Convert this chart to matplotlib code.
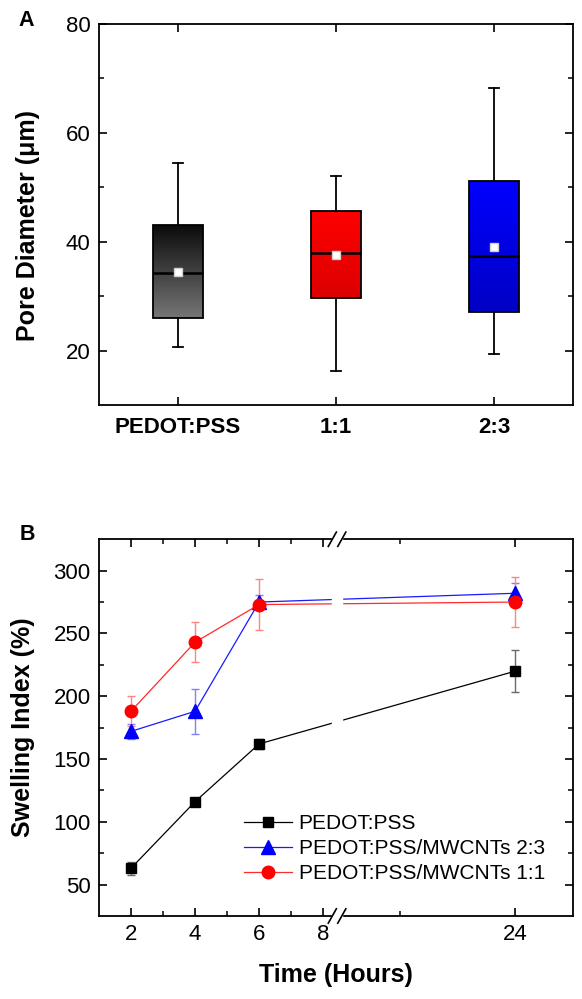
import numpy as np
import matplotlib
matplotlib.use("Agg")
import matplotlib.pyplot as plt
from matplotlib.colors import LinearSegmentedColormap
from matplotlib.patches import Rectangle

plt.rcParams['font.family'] = ['Liberation Sans', 'DejaVu Sans']

# panel A - pore diameter (um), box statistics
groups = ["PEDOT:PSS", "1:1", "2:3"]
whis_low = [20.6, 16.3, 19.4]
q1 = [26.0, 29.7, 27.1]
median = [34.2, 37.9, 37.3]
mean = [34.5, 37.6, 39.1]
q3 = [43.1, 45.7, 51.1]
whis_high = [54.5, 52.1, 68.2]
grad_top = ["#0a0a0a", "#ff0000", "#0000ff"]
grad_bot = ["#767676", "#dc0000", "#0000c4"]

# panel B - swelling index (%)
hours = [2, 4, 6, 24]
pedot = [63, 116, 162, 220]
pedot_err = [5, 3, 4, 17]
mw23 = [172, 188, 275, 282]
mw23_err = [6, 18, 6, 8]
mw11 = [188, 243, 273, 275]
mw11_err = [12, 16, 20, 20]
series_labels = ["PEDOT:PSS", "PEDOT:PSS/MWCNTs 2:3", "PEDOT:PSS/MWCNTs 1:1"]

fig = plt.figure(figsize=(5.82, 9.99), dpi=100)

# ---------------- A ----------------
axA = fig.add_axes([0.170, 0.5946, 0.8145, 0.3814])
stats = []
for i in range(len(groups)):
    stats.append(dict(label=groups[i], whislo=whis_low[i], q1=q1[i], med=median[i],
                      mean=mean[i], q3=q3[i], whishi=whis_high[i], fliers=[]))
pos = [1, 2, 3]
bw = 0.32
bp = axA.bxp(stats, positions=pos, widths=bw, patch_artist=True, showmeans=True,
             showfliers=False, capwidths=0.06,
             boxprops=dict(facecolor='none', edgecolor='black', linewidth=1.3),
             medianprops=dict(color='black', linewidth=1.8),
             whiskerprops=dict(color='black', linewidth=1.3),
             capprops=dict(color='black', linewidth=1.3),
             meanprops=dict(marker='s', markerfacecolor='white', markeredgecolor='#d0d0d0',
                            markersize=5.8))
grad = np.linspace(0, 1, 256).reshape(-1, 1)
for i, box in enumerate(bp['boxes']):
    cmap = LinearSegmentedColormap.from_list('g%d' % i, [grad_bot[i], grad_top[i]])
    im = axA.imshow(grad, cmap=cmap, origin='lower', aspect='auto', zorder=1.5,
                    extent=[pos[i] - bw / 2, pos[i] + bw / 2, q1[i], q3[i]])
    im.set_clip_path(box)

axA.set_xlim(0.5, 3.5)
axA.set_ylim(10, 80)
axA.set_xticks(pos)
axA.set_xticklabels(groups, fontweight='bold', fontsize=18.5)
axA.set_yticks([20, 40, 60, 80])
axA.set_yticks([30, 50, 70], minor=True)
axA.tick_params(direction='in', top=True, right=True, length=6, width=1.2, labelsize=16)
axA.tick_params(which='minor', direction='in', right=True, length=3.5, width=1.1)
axA.tick_params(axis='y', pad=6)
axA.tick_params(axis='x', pad=9)
for s in axA.spines.values():
    s.set_linewidth(1.3)
axA.set_ylabel("Pore Diameter (μm)", fontsize=18, fontweight='bold')
axA.yaxis.set_label_coords(-0.125, 0.47)

# ---------------- B ----------------
xb = 8.375   # end of first segment
b2 = 11.5    # start of second segment
r = 0.45     # compression after the break


def fwd(x):
    x = np.asarray(x, dtype=float)
    return np.where(x <= xb, x, xb + np.maximum(x - b2, 0) * r)


def inv(y):
    y = np.asarray(y, dtype=float)
    return np.where(y <= xb, y, b2 + (y - xb) / r)


axB = fig.add_axes([0.170, 0.0831, 0.8145, 0.3771])
axB.set_xscale('function', functions=(fwd, inv))

ys = [pedot, mw23, mw11]
errs = [pedot_err, mw23_err, mw11_err]
lcol = ['black', '#1a1aff', '#ff2a2a']
ecol = ['#6a6a6a', '#8080ff', '#ff8585']
mcol = ['black', '#0000ff', '#ff0000']
mk = ['s', '^', 'o']
msz = [7.5, 9.5, 9]
for i in range(3):
    axB.errorbar(hours, ys[i], yerr=errs[i], fmt='none', ecolor=ecol[i],
                 elinewidth=1, capsize=3, capthick=1, zorder=2)
    axB.plot(hours, ys[i], color=lcol[i], lw=0.9, marker=mk[i], ms=msz[i],
             mfc=mcol[i], mec=mcol[i], label=series_labels[i], zorder=2.2)

axB.set_xlim(1, 28)
axB.set_ylim(25, 325)
axB.set_xticks([2, 4, 6, 8, 24])
axB.set_xticklabels(['2', '4', '6', '8', '24'])
axB.set_xticks([3, 5, 7, 16], minor=True)
axB.set_yticks([50, 100, 150, 200, 250, 300])
axB.set_yticks([75, 125, 175, 225, 275], minor=True)
axB.tick_params(direction='in', top=True, right=True, length=6, width=1.2, labelsize=16)
axB.tick_params(which='minor', direction='in', top=True, right=True, length=3.5, width=1.1)
axB.tick_params(axis='y', pad=6)
axB.tick_params(axis='x', pad=6)
for s in axB.spines.values():
    s.set_linewidth(1.3)
axB.set_ylabel("Swelling Index (%)", fontsize=18, fontweight='bold')
axB.yaxis.set_label_coords(-0.135, 0.5)
axB.set_xlabel("Time (Hours)", fontsize=18, fontweight='bold')
axB.xaxis.set_label_coords(0.5, -0.125)

# axis break
x0d, x1d = fwd(1), fwd(28)
bf = float((fwd(xb) - x0d) / (x1d - x0d))
axB.add_patch(Rectangle((bf - 0.006, -0.01), 0.02, 1.02, transform=axB.transAxes,
                        color='white', zorder=3, clip_on=False))
dx, dy = 0.0085, 0.019
for yy in (0, 1):
    for cx in (bf - 0.006, bf + 0.014):
        axB.plot([cx - dx, cx + dx], [yy - dy, yy + dy], transform=axB.transAxes,
                 color='black', lw=1.2, clip_on=False, zorder=4)

axB.legend(loc='upper left', bbox_to_anchor=(0.305, 0.27), frameon=False, fontsize=15,
           handlelength=2.35, handletextpad=0.3, borderpad=0, borderaxespad=0,
           labelspacing=0.28)

fig.text(26.5 / 582, 1 - 20 / 999, "A", fontsize=15.5, fontweight='bold', ha='center', va='center')
fig.text(27 / 582, 1 - 534 / 999, "B", fontsize=15.5, fontweight='bold', ha='center', va='center')

fig.savefig("out.png", dpi=100)
